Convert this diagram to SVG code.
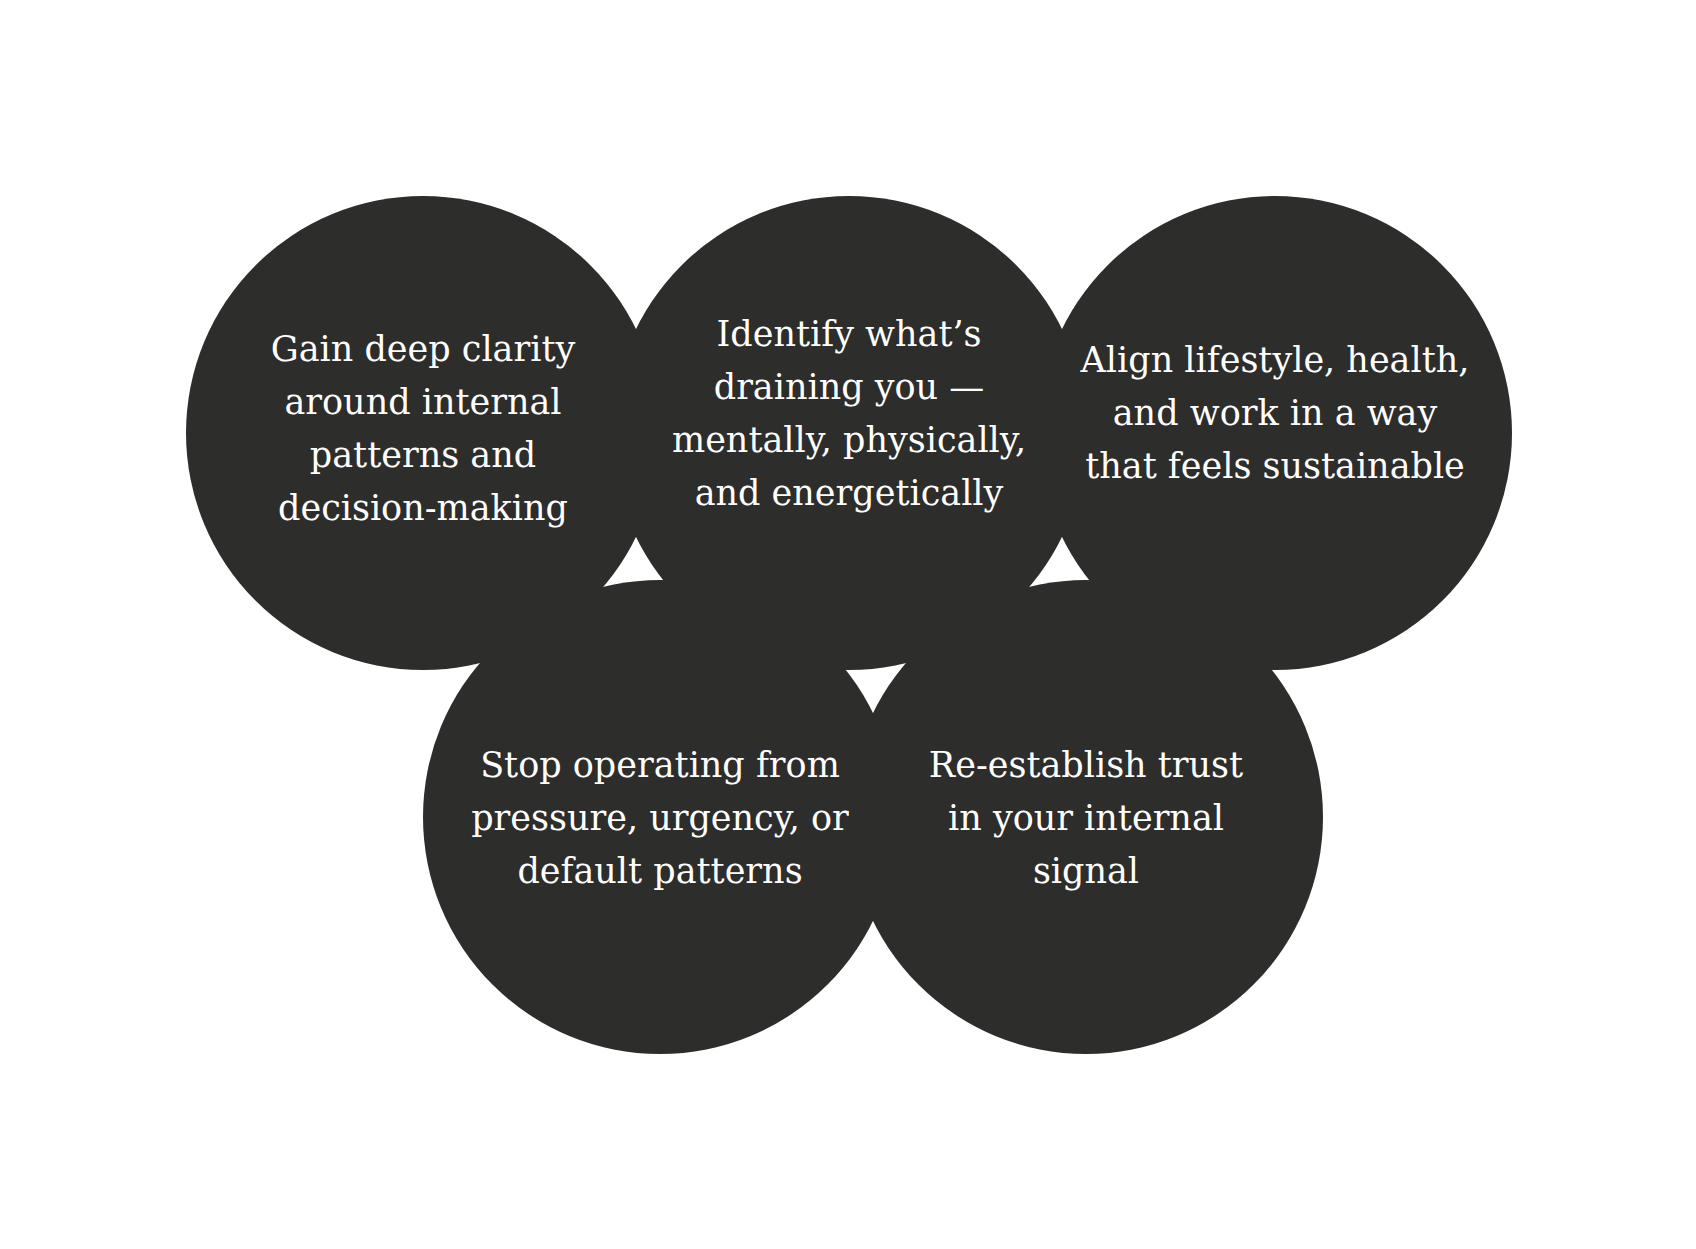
<svg xmlns="http://www.w3.org/2000/svg" width="1696" height="1249" viewBox="0 0 1696 1249">
<style>
.c{fill:#2d2d2b}
.t{fill:#fff;font-family:"DejaVu Serif","Liberation Serif",serif;font-size:35px;text-anchor:middle}
</style>
<rect width="1696" height="1249" fill="#fff"/>
<g id="n1"><circle class="c" cx="423" cy="433" r="237"/><text class="t"><tspan x="423" y="361">Gain deep clarity</tspan><tspan x="423" y="414">around internal</tspan><tspan x="423" y="467">patterns and</tspan><tspan x="423" y="520">decision-making</tspan></text></g>
<g id="n2"><circle class="c" cx="849" cy="433" r="237"/><text class="t"><tspan x="849" y="346">Identify what’s</tspan><tspan x="849" y="399">draining you —</tspan><tspan x="849" y="452">mentally, physically,</tspan><tspan x="849" y="505">and energetically</tspan></text></g>
<g id="n3"><circle class="c" cx="1275" cy="433" r="237"/><text class="t"><tspan x="1275" y="372">Align lifestyle, health,</tspan><tspan x="1275" y="425">and work in a way</tspan><tspan x="1275" y="478">that feels sustainable</tspan></text></g>
<g id="n4"><circle class="c" cx="660" cy="817" r="237"/><text class="t"><tspan x="660" y="777">Stop operating from</tspan><tspan x="660" y="830">pressure, urgency, or</tspan><tspan x="660" y="883">default patterns</tspan></text></g>
<g id="n5"><circle class="c" cx="1086" cy="817" r="237"/><text class="t"><tspan x="1086" y="777">Re-establish trust</tspan><tspan x="1086" y="830">in your internal</tspan><tspan x="1086" y="883">signal</tspan></text></g>
<g id="connectors"/>
</svg>
